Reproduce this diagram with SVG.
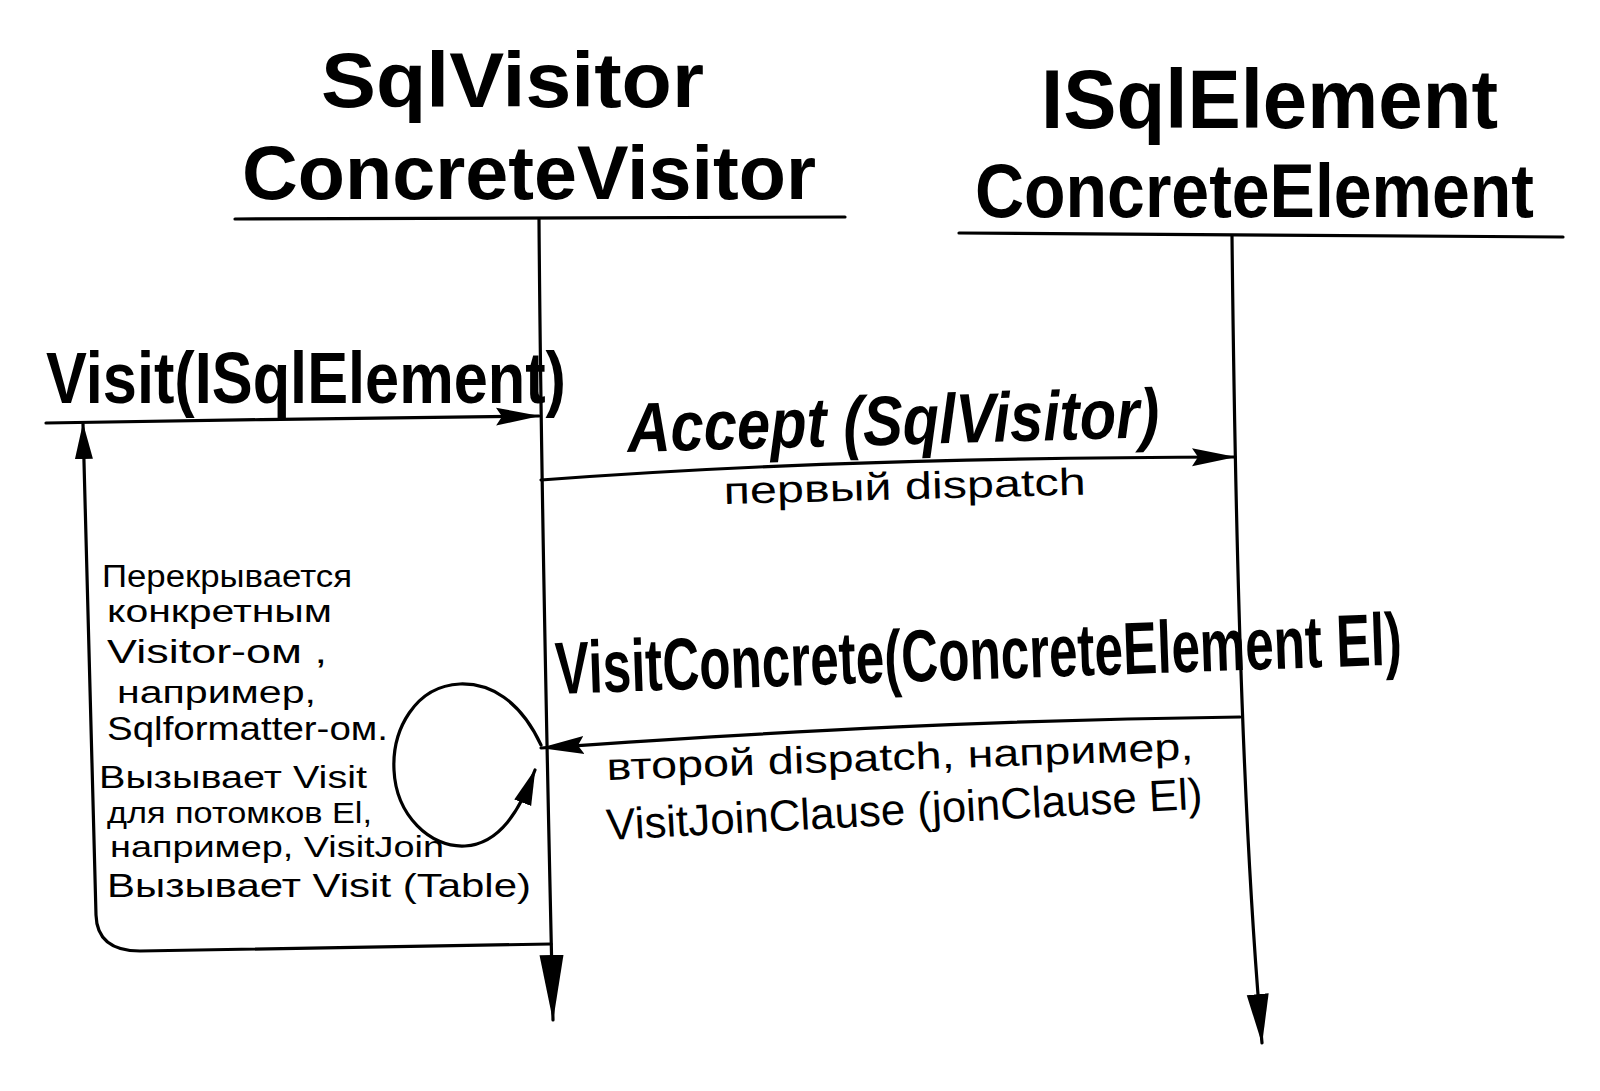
<svg xmlns="http://www.w3.org/2000/svg" width="1600" height="1091" viewBox="0 0 1600 1091">
<style>
.line{fill:none;stroke:#000;stroke-width:3.2;stroke-linecap:round;stroke-linejoin:round}
.head{font-family:"Liberation Sans","DejaVu Sans",sans-serif;font-weight:bold;fill:#000}
.msg{font-family:"Liberation Sans","DejaVu Sans",sans-serif;font-weight:bold;fill:#000}
.note{font-family:"Liberation Sans","DejaVu Sans",sans-serif;fill:#000}
</style>
<defs>
<marker id="arr" viewBox="0 0 44 20" refX="43" refY="10" markerWidth="44" markerHeight="20" markerUnits="userSpaceOnUse" orient="auto">
<path d="M0,1 L44,10 L0,19 L6,10 z" fill="#000"/>
</marker>
<marker id="arrS" viewBox="0 0 36 20" refX="35" refY="10" markerWidth="36" markerHeight="20" markerUnits="userSpaceOnUse" orient="auto">
<path d="M0,1 L36,10 L0,19 z" fill="#000"/>
</marker>
<marker id="arrL" viewBox="0 0 66 26" refX="65" refY="13" markerWidth="66" markerHeight="26" markerUnits="userSpaceOnUse" orient="auto">
<path d="M0,1 L66,13 L0,25 z" fill="#000"/>
</marker>
<marker id="arrM" viewBox="0 0 50 24" refX="49" refY="12" markerWidth="50" markerHeight="24" markerUnits="userSpaceOnUse" orient="auto">
<path d="M0,1 L50,12 L0,23 z" fill="#000"/>
</marker>
</defs>
<rect width="1600" height="1091" fill="#fff"/>

<g id="sqlvisitor">
<text class="head" x="321" y="107" font-size="78" textLength="383" lengthAdjust="spacingAndGlyphs">SqlVisitor</text>
<text class="head" x="242" y="199" font-size="76" textLength="574" lengthAdjust="spacingAndGlyphs">ConcreteVisitor</text>
<path class="line" d="M235,219 L845,217"/>
</g>

<g id="isqlelement">
<text class="head" x="1041" y="128" font-size="84" textLength="457" lengthAdjust="spacingAndGlyphs">ISqlElement</text>
<text class="head" x="975" y="217" font-size="76" textLength="559" lengthAdjust="spacingAndGlyphs">ConcreteElement</text>
<path class="line" d="M959,233 L1563,237"/>
</g>

<g id="connectors">
<path class="line" d="M539,219 C541,500 548,800 553,1020" marker-end="url(#arrL)"/>
<path class="line" d="M1232,236 C1236,600 1245,850 1262,1043" marker-end="url(#arrM)"/>
<path class="line" d="M46,423 C200,420 400,418 539,416" marker-end="url(#arr)"/>
<path class="line" d="M551,944 L140,951 Q97,951 96,915 L83,424" marker-end="url(#arrS)"/>
<path class="line" d="M541,480 C700,468 900,458 1235,457" marker-end="url(#arr)"/>
<path class="line" d="M1240,717 C1000,720 800,730 541,748" marker-end="url(#arr)"/>
<path class="line" d="M541,745 C520,700 490,683 460,684 C415,686 392,730 394,770 C396,815 430,848 465,846 C500,844 520,810 535,770" marker-end="url(#arrS)"/>
</g>

<g id="labels">
<text class="msg" x="46" y="403" font-size="72" textLength="520" lengthAdjust="spacingAndGlyphs">Visit(ISqlElement)</text>
<text class="msg" x="628" y="452" font-size="70" font-style="italic" textLength="532" lengthAdjust="spacingAndGlyphs" transform="rotate(-1.6 628 452)">Accept (SqlVisitor)</text>
<text class="note" x="724" y="504" font-size="38" textLength="362" lengthAdjust="spacingAndGlyphs" transform="rotate(-1.5 724 504)">первый dispatch</text>
<text class="msg" x="556" y="694" font-size="74" textLength="847" lengthAdjust="spacingAndGlyphs" transform="rotate(-2 556 694)">VisitConcrete(ConcreteElement El)</text>
<text class="note" x="607" y="780" font-size="38" textLength="587" lengthAdjust="spacingAndGlyphs" transform="rotate(-2 607 780)">второй dispatch, например,</text>
<text class="note" x="607" y="840" font-size="44" textLength="597" lengthAdjust="spacingAndGlyphs" transform="rotate(-3 607 840)">VisitJoinClause (joinClause El)</text>
</g>

<g id="note">
<text class="note" x="102" y="587" font-size="31" textLength="250" lengthAdjust="spacingAndGlyphs">Перекрывается</text>
<text class="note" x="107" y="622" font-size="31" textLength="225" lengthAdjust="spacingAndGlyphs">конкретным</text>
<text class="note" x="107" y="663" font-size="33" textLength="220" lengthAdjust="spacingAndGlyphs">Visitor-ом ,</text>
<text class="note" x="117" y="703" font-size="31" textLength="199" lengthAdjust="spacingAndGlyphs">например,</text>
<text class="note" x="107" y="740" font-size="33" textLength="281" lengthAdjust="spacingAndGlyphs">Sqlformatter-ом.</text>
<text class="note" x="99" y="788" font-size="31" textLength="268" lengthAdjust="spacingAndGlyphs">Вызывает Visit</text>
<text class="note" x="107" y="823" font-size="29" textLength="265" lengthAdjust="spacingAndGlyphs">для потомков El,</text>
<text class="note" x="110" y="857" font-size="30" textLength="334" lengthAdjust="spacingAndGlyphs">например, VisitJoin</text>
<text class="note" x="107" y="897" font-size="33" textLength="424" lengthAdjust="spacingAndGlyphs">Вызывает Visit (Table)</text>
</g>
</svg>
